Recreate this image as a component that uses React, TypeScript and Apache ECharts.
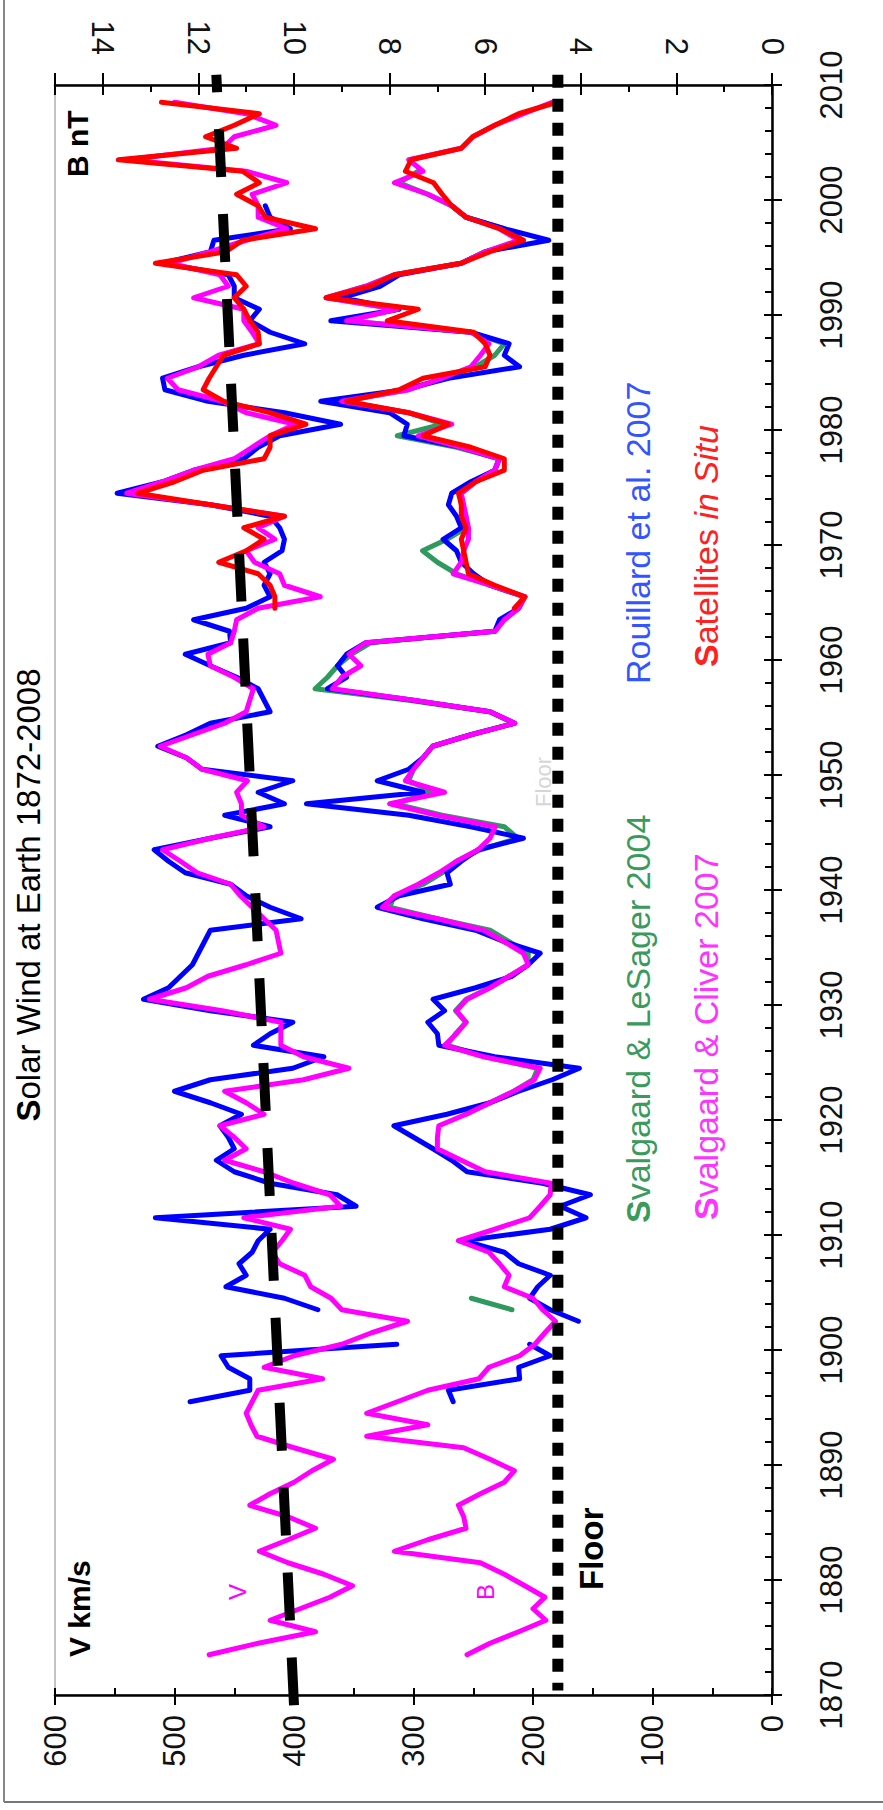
import React, { useEffect, useRef } from "react";
import * as echarts from "echarts";

const FONT = "Liberation Sans, Arial, Helvetica, sans-serif";

// Year axis
const YEAR_MIN = 1870;
const YEAR_MAX = 2010;
const YEAR_STEP = 10;
// V axis (km/s)
const V_MIN = 0;
const V_MAX = 600;
const V_STEP = 100;
// B axis (nT)
const B_MIN = 0;
const B_MAX = 15;
const B_STEP = 2;

// ---------- V (km/s) ----------
// Svalgaard & Cliver 2007, yearly from 1873
const svcV_start = 1873;
const svcV = [
  471, 430, 382, 420, 395, 370, 351, 375, 405, 429,
  405, 382, 405, 437, 420, 400, 385, 367, 400, 431,
  436, 440, 435, 430, 376, 425, 400, 360, 335, 305,
  360, 369, 386, 391, 412, 418, 410, 403, 442, 361,
  370, 400, 425, 458, 440, 450, 462, 425, 440, 458,
  392, 354, 392, 411, 411, 411, 460, 521, 490, 472,
  440, 411, 413, 415, 425, 435, 445, 453, 481, 495,
  510, 470, 425, 444, 444, 448, 439, 477, 490, 512,
  485, 458, 440, 437, 434, 450, 470, 472, 453, 450,
  448, 430, 378, 408, 412, 433, 440, 416, 430, 408,
  470, 540, 510, 484, 450, 435, 420, 399, 440, 460,
  497, 506, 480, 463, 429, 435, 442, 442, 484, 455,
  462, 504, 470, 440, 406, 430, 430, 435, 406, 440,
  540, 460, 450, 415, 440, 500,
];
// Rouillard et al. 2007 (two segments)
const rouV1_start = 1895;
const rouV1 = [487, 437, 437, 455, 461, 314];
const rouV2_start = 1903;
const rouV2 = [
  380, 408, 457, 440, 446, 435, 430, 420, 516, 348,
  364, 420, 450, 465, 450, 455, 462, 444, 470, 500,
  470, 401, 375, 434, 420, 401, 470, 526, 505, 495,
  485, 480, 475, 470, 394, 420, 440, 453, 491, 505,
  517, 470, 420, 458, 408, 430, 401, 477, 490, 514,
  490, 470, 420, 425, 430, 448, 470, 491, 453, 454,
  484, 440, 420, 425, 420, 425, 410, 408, 412, 420,
  470, 548, 510, 484, 442, 430, 412, 361, 408, 472,
  508, 510, 480, 442, 391, 420, 437, 429, 450, 450,
  455, 510, 470, 467, 403, 420, 424,
];
// Satellites in situ
const satV_start = 1964;
const satV = [
  416, 416, 420, 430, 463, 440, 425, 442, 408, 470,
  531, 500, 476, 425, 420, 420, 390, 420, 459, 476,
  471, 465, 459, 429, 430, 437, 442, 450, 440, 448,
  516, 457, 443, 382, 424, 430, 448, 429, 443, 547,
  448, 474, 450, 429, 511,
];

// ---------- B (nT) ----------
const svcB_start = 1873;
const svcB = [
  6.38, 5.9, 5.3, 4.73, 5.0, 4.75, 5.17, 5.6, 6.1, 7.9,
  7.2, 6.4, 6.45, 6.56, 6.1, 5.6, 5.39, 5.9, 6.45, 8.48,
  7.2, 8.48, 7.84, 7.2, 6.13, 5.92, 5.28, 4.96, 4.75, 4.53,
  4.8, 5.0, 5.6, 5.5, 5.7, 5.92, 6.56, 5.8, 5.07, 4.85,
  4.64, 4.62, 6.0, 6.5, 7.0, 7.0, 6.97, 6.4, 5.9, 5.4,
  4.97, 4.85, 6.03, 6.85, 6.6, 6.4, 6.6, 6.38, 5.9, 5.5,
  5.1, 5.2, 5.6, 6.03, 7.0, 8.15, 7.9, 7.4, 6.97, 6.6,
  6.15, 5.9, 5.79, 7.0, 8.0, 6.85, 7.67, 7.5, 7.3, 7.1,
  6.3, 5.38, 5.9, 7.5, 9.2, 9.0, 8.6, 8.85, 8.5, 5.79,
  5.6, 5.3, 5.17, 5.9, 6.67, 6.5, 6.45, 6.35, 6.35, 6.4,
  6.45, 6.5, 6.2, 5.8, 5.71, 6.5, 7.4, 6.7, 7.6, 9.0,
  7.6, 6.9, 6.3, 6.1, 5.92, 6.3, 8.9, 7.84, 9.33, 8.5,
  7.9, 6.5, 6.0, 5.3, 5.7, 6.4, 6.7, 7.2, 7.9, 7.3,
  7.6, 6.5, 6.26, 5.8, 5.2, 4.6,
];
const rouB1_start = 1895;
const rouB1 = [6.67, 6.77, 5.28, 5.3, 4.64, 5.07];
const rouB2_start = 1902;
const rouB2 = [
  4.05, 4.64, 5.07, 4.9, 4.64, 5.3, 5.6, 6.45, 4.64, 3.89,
  4.43, 3.8, 4.8, 6.38, 6.7, 7.09, 7.5, 7.91, 6.8, 5.9,
  5.3, 4.6, 4.03, 5.8, 6.97, 7.0, 7.2, 6.85, 7.09, 6.2,
  5.44, 5.1, 4.85, 5.6, 6.2, 7.3, 8.26, 7.8, 6.73, 6.8,
  6.5, 6.15, 5.2, 6.3, 7.6, 9.74, 7.3, 8.26, 7.6, 7.3,
  7.1, 6.3, 5.38, 5.9, 7.5, 9.3, 8.9, 9.09, 8.9, 8.5,
  5.8, 5.7, 5.3, 5.17, 5.9, 6.24, 6.5, 6.6, 6.88, 6.5,
  6.6, 6.77, 6.7, 6.3, 5.8, 5.71, 6.5, 7.7, 7.63, 8.0,
  9.44, 7.7, 6.77, 5.28, 5.6, 5.5, 6.3, 9.23, 7.8, 9.0,
  8.2, 7.8, 6.5, 6.0, 4.67, 5.6, 6.4, 6.7,
];
const slsB_start = 1920;
const slsB = [
  6.4, 5.9, 5.4, 5.0, 4.9, 6.0, 6.8, 6.62, 6.4, 6.62,
  6.4, 5.9, 5.5, 5.1, 5.1, 5.5, 5.9, 7.0, 8.0, 7.9,
  7.3, 6.9, 6.6, 6.1, 5.32, 5.6, 6.9, 7.9, 7.1, 7.6,
  7.5, 7.3, 7.1, 6.3, 5.4, 5.9, 7.6, 9.56, 9.3, 9.09,
  8.8, 8.4, 5.8, 5.6, 5.3, 5.2, 5.9, 6.6, 7.0, 7.31,
  6.8, 6.4, 6.4, 6.5, 6.5, 6.2, 5.8, 5.7, 6.6, 7.84,
  6.9, 7.6, 9.0, 7.6, 6.9, 6.2, 5.8, 5.6, 6.3, 8.9,
  7.84, 9.3, 8.5, 7.9, 6.5, 6.0, 5.2, 5.6, 6.4, 6.7,
  7.2, 7.8, 7.4,
];
const slsBEarly_start = 1903;
const slsBEarly = [5.44, 6.29];
const slsBDot = [[5.55, 1912]];
const satB_start = 1964;
const satB = [
  5.39, 5.17, 5.8, 6.35, 6.4, 6.45, 6.5, 6.4, 6.5, 6.5,
  6.56, 6.2, 5.6, 5.6, 6.3, 7.3, 6.77, 7.6, 8.9, 7.8,
  7.3, 6.0, 5.9, 6.0, 6.24, 8.05, 7.4, 9.33, 8.4, 7.9,
  6.5, 5.9, 5.2, 5.7, 6.4, 6.7, 6.9, 7.08, 7.67, 7.55,
  6.5, 6.26, 5.8, 5.3, 4.5,
];
const rouDotsV = [[434, 1901]];
const rouDotsB = [[2.08, 1901]];

// reference lines
const floorB = 4.48;
const floorYears = [2010.9, 1870.4];
const trendV = [400, 465];
const trendYears = [1869.1, 2010.9];

const BLUE = "#0000ff";
const MAGENTA = "#ff00ff";
const RED = "#ff0000";
const GREEN = "#2f9a5e";

function pairs(start: number, vals: number[]) {
  return vals.map((v, i) => [v, start + i + 0.5]);
}

function lineSeries(name: string, data: any[], xIdx: number, color: string, z: number) {
  return {
    name,
    type: "line",
    xAxisIndex: xIdx,
    yAxisIndex: 0,
    data,
    showSymbol: false,
    symbol: "none",
    z,
    lineStyle: { color, width: 5, join: "round", cap: "round" },
    emphasis: { disabled: true },
  };
}

function vtext(x: number, y: number, text: string, size: number, fill: string, align: string, rich?: any, weight?: string) {
  return {
    type: "text",
    x,
    y,
    rotation: Math.PI / 2,
    z: 100,
    style: {
      text,
      fontSize: size,
      fontFamily: FONT,
      fontWeight: weight || "normal",
      fill,
      textAlign: align,
      textVerticalAlign: "middle",
      rich,
    },
  };
}

function richFor(size: number, fill: string) {
  return {
    b: { fontWeight: "bold", fontSize: size, fontFamily: FONT, fill },
    n: { fontWeight: "normal", fontSize: size, fontFamily: FONT, fill },
    i: { fontStyle: "italic", fontSize: size, fontFamily: FONT, fill },
  };
}

const tickLine = { color: "#000", width: 2 };

export default function App() {
  const ref = useRef<HTMLDivElement>(null);
  useEffect(() => {
    if (!ref.current) return;
    const chart = echarts.init(ref.current, undefined, { renderer: "svg" });
    const labelStyle = { fontSize: 31, color: "#111", fontFamily: FONT };
    const option: any = {
      animation: false,
      backgroundColor: "#fff",
      grid: {
        left: 55,
        right: 111,
        top: 85,
        bottom: 115,
        show: true,
        borderColor: "#888",
        borderWidth: 1,
        containLabel: false,
        outerBoundsMode: "none",
      },
      xAxis: [
        {
          type: "value", position: "bottom", min: V_MIN, max: V_MAX, interval: V_STEP, inverse: true,
          axisLine: { show: true, onZero: false, lineStyle: { color: "#000", width: 2.5 } },
          axisTick: { show: true, length: 10, lineStyle: tickLine },
          axisLabel: { ...labelStyle, rotate: 90, margin: 20, formatter: (v: number) => String(v) },
          splitLine: { show: false },
        },
        {
          type: "value", position: "top", min: B_MIN, max: B_MAX, interval: B_STEP, inverse: true,
          axisLine: { show: true, onZero: false, lineStyle: { color: "#000", width: 2.5 } },
          axisTick: { show: true, length: 12, lineStyle: tickLine },
          axisLabel: { ...labelStyle, rotate: 90, margin: 30, formatter: (v: number) => (v === B_MAX ? "" : String(v)) },
          splitLine: { show: false },
        },
        {
          type: "value", position: "bottom", min: V_MIN, max: V_MAX, interval: V_STEP, inverse: true,
          axisLine: { show: false, onZero: false },
          axisTick: { show: true, inside: true, length: 7, lineStyle: tickLine },
          minorTick: { show: true, splitNumber: 2, length: 7, lineStyle: tickLine },
          axisLabel: { show: false },
          splitLine: { show: false },
        },
        {
          type: "value", position: "top", min: B_MIN, max: B_MAX, interval: B_STEP, inverse: true,
          axisLine: { show: false, onZero: false },
          axisTick: { show: true, inside: true, length: 10, lineStyle: tickLine },
          minorTick: { show: true, splitNumber: 2, length: 7, lineStyle: tickLine },
          axisLabel: { show: false },
          splitLine: { show: false },
        },
      ],
      yAxis: [
        {
          type: "value", position: "right", min: YEAR_MIN, max: YEAR_MAX, interval: YEAR_STEP,
          axisLine: { show: true, onZero: false, lineStyle: { color: "#000", width: 2.5 } },
          axisTick: { show: true, length: 10, lineStyle: tickLine },
          axisLabel: { ...labelStyle, rotate: 90, margin: 44, formatter: (v: number) => String(v) },
          splitLine: { show: false },
        },
        {
          type: "value", position: "right", min: YEAR_MIN, max: YEAR_MAX, interval: YEAR_STEP,
          axisLine: { show: false, onZero: false },
          axisTick: { show: true, inside: true, length: 8, lineStyle: tickLine },
          minorTick: { show: true, splitNumber: 5, length: 7, lineStyle: tickLine },
          axisLabel: { show: false },
          splitLine: { show: false },
        },
      ],
      series: [
        // B panel
        lineSeries("S&L 2004 early", pairs(slsBEarly_start, slsBEarly), 1, GREEN, 2),
        lineSeries("Svalgaard & LeSager 2004", pairs(slsB_start, slsB), 1, GREEN, 2),
        lineSeries("Rouillard B1", pairs(rouB1_start, rouB1), 1, BLUE, 3),
        lineSeries("Rouillard B2", pairs(rouB2_start, rouB2), 1, BLUE, 3),
        lineSeries("Svalgaard & Cliver B", pairs(svcB_start, svcB), 1, MAGENTA, 4),
        lineSeries("Satellites B", pairs(satB_start, satB), 1, RED, 5),
        // V panel
        lineSeries("Rouillard V1", pairs(rouV1_start, rouV1), 0, BLUE, 3),
        lineSeries("Rouillard V2", pairs(rouV2_start, rouV2), 0, BLUE, 3),
        lineSeries("Svalgaard & Cliver V", pairs(svcV_start, svcV), 0, MAGENTA, 4),
        lineSeries("Satellites V", pairs(satV_start, satV), 0, RED, 5),
        {
          type: "scatter", xAxisIndex: 0, yAxisIndex: 0, symbol: "emptyCircle", symbolSize: 6,
          data: rouDotsV.map((d) => [d[0], d[1] + 0.5]),
          itemStyle: { color: "#fff", borderColor: BLUE, borderWidth: 1.5 }, z: 6,
        },
        {
          type: "scatter", xAxisIndex: 1, yAxisIndex: 0, symbol: "emptyCircle", symbolSize: 6,
          data: rouDotsB.map((d) => [d[0], d[1] + 0.5]),
          itemStyle: { color: "#fff", borderColor: BLUE, borderWidth: 1.5 }, z: 6,
        },
        {
          type: "scatter", xAxisIndex: 1, yAxisIndex: 0, symbol: "emptyCircle", symbolSize: 6,
          data: slsBDot.map((d) => [d[0], d[1] + 0.5]),
          itemStyle: { color: "#fff", borderColor: GREEN, borderWidth: 1.5 }, z: 6,
        },
        {
          name: "Floor", type: "line", xAxisIndex: 1, yAxisIndex: 0, clip: false,
          data: floorYears.map((y) => [floorB, y]), showSymbol: false, symbol: "none", z: 10,
          lineStyle: { color: "#000", width: 11, type: [13, 11], cap: "butt" },
        },
        {
          name: "Trend", type: "line", xAxisIndex: 0, yAxisIndex: 0, clip: false,
          data: trendYears.map((y, i) => [trendV[i], y]), showSymbol: false, symbol: "none", z: 10,
          lineStyle: { color: "#000", width: 10, type: [48, 37], cap: "butt" },
        },
      ],
      graphic: [
        { type: "line", shape: { x1: 4, y1: 0, x2: 4, y2: 1802 }, style: { stroke: "#888", lineWidth: 2 } },
        { type: "line", shape: { x1: 4, y1: 1802, x2: 883, y2: 1802 }, style: { stroke: "#777", lineWidth: 2 } },
        vtext(28, 895, "{b|S}{n|olar Wind at Earth 1872-2008}", 33, "#000", "center", richFor(33, "#000")),
        vtext(77, 177, "B nT", 30, "#000", "left", undefined, "bold"),
        vtext(79, 1657, "V km/s", 30, "#000", "left", undefined, "bold"),
        vtext(237, 1592, "V", 24, MAGENTA, "center"),
        vtext(485, 1592, "B", 24, MAGENTA, "center"),
        vtext(591, 1590, "Floor", 33, "#000", "left", undefined, "bold"),
        vtext(543, 807, "Floor", 22, "#d6d6d6", "left"),
        vtext(638, 684, "Rouillard et al. 2007", 34, "#3355ff", "left"),
        vtext(706, 667, "{b|S}{n|atellites }{i|in Situ}", 34, "#ff2020", "left", richFor(34, "#ff2020")),
        vtext(638, 1223, "{b|S}{n|valgaard & LeSager 2004}", 34, "#3a9a5c", "left", richFor(34, "#3a9a5c")),
        vtext(706, 1220, "{b|S}{n|valgaard & Cliver 2007}", 34, "#ff33ff", "left", richFor(34, "#ff33ff")),
      ],
    };
    chart.setOption(option);
    return () => chart.dispose();
  }, []);
  return (
    <div
      ref={ref}
      style={{ position: "absolute", left: 0, top: 0, width: 883, height: 1810, background: "#fff" }}
    />
  );
}
